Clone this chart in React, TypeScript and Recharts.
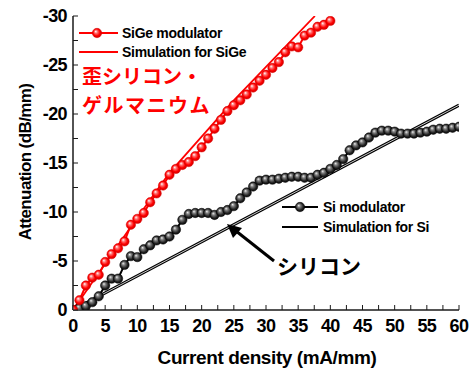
import { LineChart, Line, XAxis, YAxis } from "recharts";

// Current density (mA/mm) for each measured point
const siGeCurrent = [
  0, 1, 2, 3, 4, 5, 6, 7, 8, 9, 10, 11, 12, 13, 14, 15, 16, 17, 18, 19, 20,
  21, 22, 23, 24, 25, 26, 27, 28, 29, 30, 31, 32, 33, 34, 35, 36, 37, 38, 39, 40,
];
// Attenuation (dB/mm) of the SiGe modulator
const siGeAttenuation = [
  0, -1.0, -2.5, -3.3, -3.6, -4.9, -5.7, -6.3, -7.0, -8.7, -9.3, -9.9, -11.0,
  -11.9, -12.7, -13.8, -14.4, -14.8, -15.1, -15.7, -16.6, -17.5, -18.5, -19.4,
  -20.3, -20.9, -21.4, -22.0, -22.7, -23.4, -24.0, -24.7, -25.3, -26.3, -26.9,
  -26.8, -28.0, -28.3, -28.9, -29.1, -29.5,
];

const siCurrent = [
  0, 1, 2, 3, 4, 5, 6, 7, 8, 9, 10, 11, 12, 13, 14, 15, 16, 17, 18, 19, 20,
  21, 22, 23, 24, 25, 26, 27, 28, 29, 30, 31, 32, 33, 34, 35, 36, 37, 38, 39, 40,
  41, 42, 43, 44, 45, 46, 47, 48, 49, 50, 51, 52, 53, 54, 55, 56, 57, 58, 59, 60,
];
// Attenuation (dB/mm) of the Si modulator
const siAttenuation = [
  0, -0.2, -0.4, -0.8, -1.4, -2.5, -3.2, -3.2, -4.6, -5.5, -5.4, -6.2, -6.6,
  -7.1, -7.2, -7.5, -8.2, -9.2, -9.8, -9.9, -9.9, -9.9, -9.7, -10.0, -10.2,
  -10.6, -11.4, -12.0, -12.6, -13.2, -13.3, -13.3, -13.4, -13.5, -13.6, -13.6,
  -13.5, -13.5, -13.8, -14.0, -14.4, -14.8, -15.4, -16.3, -16.8, -17.1, -17.6,
  -18.1, -18.3, -18.3, -18.2, -18.0, -18.0, -18.0, -18.1, -18.2, -18.4, -18.5,
  -18.5, -18.6, -18.7,
];

// Simulation curves
const simSiGeCurrent = [0, 9, 15, 25, 37.6];
const simSiGeAttenuation = [0, -8.5, -14.0, -21.4, -30];
const simSiCurrent = [0, 60];
const simSiAttenuation = [0, -20.9];

const xTicks = [
  0, 2.5, 5, 7.5, 10, 12.5, 15, 17.5, 20, 22.5, 25, 27.5, 30, 32.5, 35, 37.5,
  40, 42.5, 45, 47.5, 50, 52.5, 55, 57.5, 60,
];
const yTicks = [0, -2.5, -5, -7.5, -10, -12.5, -15, -17.5, -20, -22.5, -25, -27.5, -30];

const zip = (xs: number[], ys: number[]) => xs.map((x, i) => ({ x, y: ys[i] }));

const siGeData = zip(siGeCurrent, siGeAttenuation);
const siData = zip(siCurrent, siAttenuation);
const simSiGeData = zip(simSiGeCurrent, simSiGeAttenuation);
const simSiData = zip(simSiCurrent, simSiAttenuation);

const FONT = "'Liberation Sans', Arial, sans-serif";
const JP_FONT = "'Noto Sans CJK JP', sans-serif";
const AXIS = "#1a1a1a";

const BottomTick = ({ x, y, payload }: any) => (
  <g>
    <line x1={x} y1={y} x2={x} y2={y - 5} stroke={AXIS} strokeWidth={1} />
    {payload.value % 5 === 0 && (
      <text x={x} y={y + 22} textAnchor="middle" fontFamily={FONT} fontWeight="bold"
        fontSize={18} letterSpacing={-0.6} fill="#000">
        {payload.value}
      </text>
    )}
  </g>
);

const TopTick = ({ x, y }: any) => (
  <line x1={x} y1={y} x2={x} y2={y + 5} stroke={AXIS} strokeWidth={1} />
);

const LeftTick = ({ x, y, payload }: any) => (
  <g>
    <line x1={x} y1={y} x2={x + 5} y2={y} stroke={AXIS} strokeWidth={1} />
    {payload.value % 5 === 0 && (
      <text x={x - 6} y={y + 6} textAnchor="end" fontFamily={FONT} fontWeight="bold"
        fontSize={18} letterSpacing={-0.6} fill="#000">
        {payload.value}
      </text>
    )}
  </g>
);

const RightTick = ({ x, y }: any) => (
  <line x1={x} y1={y} x2={x - 5} y2={y} stroke={AXIS} strokeWidth={1} />
);

export default function App() {
  return (
    <div style={{ position: "absolute", left: 0, top: 0, width: 471, height: 372, background: "#fff" }}>
      <LineChart width={471} height={372} margin={{ top: 16, right: 12, bottom: 0, left: 0 }}>
        <defs>
          <radialGradient id="redBall" cx="50%" cy="50%" r="55%" fx="35%" fy="32%">
            <stop offset="0%" stopColor="#ffffff" />
            <stop offset="30%" stopColor="#ff7070" />
            <stop offset="65%" stopColor="#ff0000" />
            <stop offset="100%" stopColor="#c00000" />
          </radialGradient>
          <radialGradient id="blackBall" cx="50%" cy="50%" r="55%" fx="35%" fy="32%">
            <stop offset="0%" stopColor="#f0f0f0" />
            <stop offset="30%" stopColor="#808080" />
            <stop offset="70%" stopColor="#222222" />
            <stop offset="100%" stopColor="#000000" />
          </radialGradient>
        </defs>
        <XAxis xAxisId="b" dataKey="x" type="number" domain={[0, 60]} ticks={xTicks}
          interval={0} height={62} tickSize={0} tickMargin={0} tickLine={false}
          axisLine={{ stroke: AXIS, strokeWidth: 1.5 }} tick={<BottomTick />} allowDataOverflow />
        <XAxis xAxisId="t" orientation="top" dataKey="x" type="number" domain={[0, 60]} ticks={xTicks}
          interval={0} height={0} tickSize={0} tickMargin={0} tickLine={false}
          axisLine={{ stroke: AXIS, strokeWidth: 1.5 }} tick={<TopTick />} />
        <YAxis yAxisId="l" type="number" domain={[-30, 0]} reversed ticks={yTicks}
          interval={0} width={73} tickSize={0} tickMargin={0} tickLine={false}
          axisLine={{ stroke: AXIS, strokeWidth: 1.5 }} tick={<LeftTick />} allowDataOverflow />
        <YAxis yAxisId="r" orientation="right" type="number" domain={[-30, 0]} reversed ticks={yTicks}
          interval={0} width={0} tickSize={0} tickMargin={0} tickLine={false}
          axisLine={{ stroke: AXIS, strokeWidth: 1.5 }} tick={<RightTick />} />

        <Line xAxisId="b" yAxisId="l" data={simSiData} dataKey="y" stroke="#000" strokeWidth={3}
          dot={false} isAnimationActive={false} />
        <Line xAxisId="b" yAxisId="l" data={simSiData} dataKey="y" stroke="#fff" strokeWidth={0.8}
          dot={false} isAnimationActive={false} />
        <Line xAxisId="b" yAxisId="l" data={siData} dataKey="y" stroke="#000" strokeWidth={2}
          dot={{ r: 4.7, fill: "url(#blackBall)", stroke: "#000", strokeWidth: 0.5 }}
          isAnimationActive={false} />
        <Line xAxisId="b" yAxisId="l" data={simSiGeData} dataKey="y" stroke="#ff0000" strokeWidth={1.8}
          dot={false} isAnimationActive={false} />
        <Line xAxisId="b" yAxisId="l" data={siGeData} dataKey="y" stroke="#ff0000" strokeWidth={2}
          dot={{ r: 4.7, fill: "url(#redBall)", stroke: "#e00000", strokeWidth: 0.5 }}
          isAnimationActive={false} />
      </LineChart>

      <svg width={471} height={372} style={{ position: "absolute", left: 0, top: 0, pointerEvents: "none" }}>
        <defs>
          <radialGradient id="redBallL" cx="50%" cy="50%" r="55%" fx="35%" fy="32%">
            <stop offset="0%" stopColor="#ffffff" />
            <stop offset="30%" stopColor="#ff7070" />
            <stop offset="65%" stopColor="#ff0000" />
            <stop offset="100%" stopColor="#c00000" />
          </radialGradient>
          <radialGradient id="blackBallL" cx="50%" cy="50%" r="55%" fx="35%" fy="32%">
            <stop offset="0%" stopColor="#f0f0f0" />
            <stop offset="30%" stopColor="#808080" />
            <stop offset="70%" stopColor="#222222" />
            <stop offset="100%" stopColor="#000000" />
          </radialGradient>
        </defs>

        {/* SiGe legend */}
        <line x1={79} y1={33} x2={118} y2={33} stroke="#ff0000" strokeWidth={2} />
        <circle cx={97} cy={33} r={4.7} fill="url(#redBallL)" stroke="#e00000" strokeWidth={0.5} />
        <text x={122} y={38} fontFamily={FONT} fontWeight="bold" fontSize={14} letterSpacing={-0.3}>SiGe modulator</text>
        <line x1={79} y1={52} x2={118} y2={52} stroke="#ff0000" strokeWidth={1.8} />
        <text x={122} y={57} fontFamily={FONT} fontWeight="bold" fontSize={14} letterSpacing={-0.3}>Simulation for SiGe</text>

        <text x={82} y={84} fontFamily={JP_FONT} fontWeight="bold" fontSize={20} fill="#ff0000">歪シリコン・</text>
        <text x={82} y={113} fontFamily={JP_FONT} fontWeight="bold" fontSize={20} letterSpacing={1.5} fill="#ff0000">ゲルマニウム</text>

        {/* Si legend */}
        <line x1={282} y1={207} x2={318} y2={207} stroke="#000" strokeWidth={2} />
        <circle cx={300} cy={207} r={4.7} fill="url(#blackBallL)" stroke="#000" strokeWidth={0.5} />
        <text x={323} y={212} fontFamily={FONT} fontWeight="bold" fontSize={14} letterSpacing={-0.3}>Si modulator</text>
        <line x1={282} y1={227} x2={318} y2={227} stroke="#000" strokeWidth={1.8} />
        <text x={323} y={232} fontFamily={FONT} fontWeight="bold" fontSize={14} letterSpacing={-0.3}>Simulation for Si</text>

        {/* arrow to the Si curve */}
        <line x1={274} y1={261} x2={236} y2={231} stroke="#000" strokeWidth={3} />
        <polygon points="227,224 242,228 233,238" fill="#000" />
        <text x={277} y={274} fontFamily={JP_FONT} fontWeight="bold" fontSize={21} fill="#000">シリコン</text>

        {/* axis titles */}
        <text x={267} y={364} textAnchor="middle" fontFamily={FONT} fontWeight="bold" fontSize={19}
          letterSpacing={-0.4}>Current density (mA/mm)</text>
        <text x={0} y={0} transform="translate(31,162) rotate(-90)" textAnchor="middle" fontFamily={FONT}
          fontWeight="bold" fontSize={17} letterSpacing={-0.6}>Attenuation (dB/mm)</text>
      </svg>
    </div>
  );
}
